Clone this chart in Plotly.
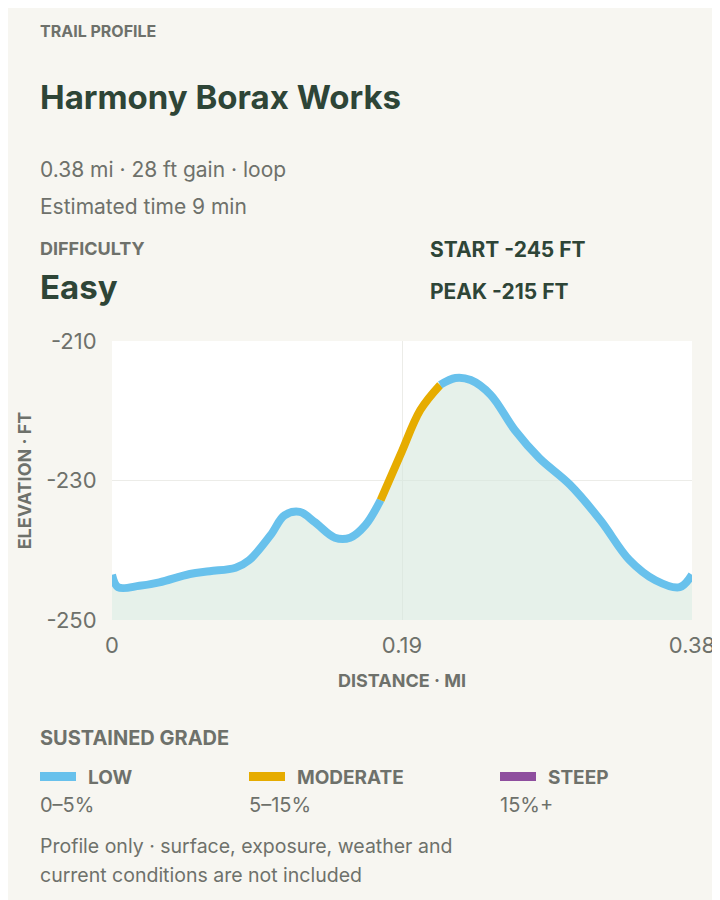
import plotly.graph_objects as go

# trail profile
dist_mi = [0, 0.004, 0.018, 0.031, 0.051, 0.064, 0.081, 0.090, 0.104, 0.113, 0.123,
           0.133, 0.146, 0.156, 0.166, 0.176, 0.189, 0.202, 0.215, 0.225, 0.235,
           0.248, 0.264, 0.280, 0.300, 0.320, 0.339, 0.356, 0.372, 0.38]
elev_ft = [-243.5, -245.3, -245.1, -244.6, -243.4, -243.0, -242.5, -241.4, -237.8, -235.0, -234.5,
           -236.0, -238.2, -238.2, -236.4, -232.8, -226.3, -219.9, -216.3, -215.3, -215.6,
           -217.7, -222.8, -226.8, -230.6, -235.7, -241.4, -244.3, -245.3, -243.5]
# grade class per point ("low" / "moderate")
grade = ["low"] * 15 + ["moderate"] * 3 + ["low"] * 12

y_ticks = [-250, -230, -210]
x_ticks = [0, 0.19, 0.38]

legend_names = ["LOW", "MODERATE", "STEEP"]
legend_ranges = ["0–5%", "5–15%", "15%+"]
legend_colors = ["#68C1EC", "#E6AC00", "#8E4E9E"]
grade_colors = {"low": legend_colors[0], "moderate": legend_colors[1]}

W, H = 720, 900
OFF = 8  # page body margin
L, R, T, B = 112 - OFF, 692 - OFF, 341 - OFF, 620 - OFF
BG = "#F7F6F1"
DARK = "#2E4537"
GREY = "#6E716B"
FONT = "Inter"


def py(y):
    return (B - (y - OFF)) / (B - T)


def px(x):
    return ((x - OFF) - L) / (R - L)


fig = go.Figure()
fig.add_trace(go.Scatter(x=[x_ticks[0], x_ticks[-1]], y=[y_ticks[0], y_ticks[0]], mode="lines",
                         line=dict(width=0), hoverinfo="skip"))
fig.add_trace(go.Scatter(x=dist_mi, y=elev_ft, mode="lines", line=dict(width=0, shape="spline"),
                         fill="tonexty", fillcolor="rgba(214,232,220,0.6)", hoverinfo="skip"))

# split into runs of the same grade, overlapping by one point
runs = []
start = 0
for i in range(1, len(grade) + 1):
    if i == len(grade) or grade[i] != grade[start]:
        runs.append((start, min(i, len(grade) - 1), grade[start]))
        start = i
for a, b, g in runs:
    fig.add_trace(go.Scatter(x=dist_mi[a:b + 1], y=elev_ft[a:b + 1], mode="lines",
                             line=dict(color=grade_colors[g], width=8, shape="spline"),
                             hoverinfo="skip"))

ann = []


def text(x, y, s, size, color, bold=False, anchor="left"):
    ann.append(dict(xref="paper", yref="paper", x=px(x), y=py(y), text=f"<b>{s}</b>" if bold else s,
                    showarrow=False, xanchor=anchor, yanchor="middle", xshift=-2,
                    font=dict(family=FONT, size=size, color=color)))


text(40, 31, "TRAIL PROFILE", 16, GREY, True)
text(40, 97, "Harmony Borax Works", 33, DARK, True)
text(40, 169, "0.38 mi · 28 ft gain · loop", 21, GREY)
text(40, 207, "Estimated time 9 min", 21, GREY)
text(40, 248, "DIFFICULTY", 18, GREY, True)
text(40, 287, "Easy", 33, DARK, True)
text(430, 250, "START -245 FT", 21, DARK, True)
text(430, 291, "PEAK -215 FT", 21, DARK, True)
text(40, 738, "SUSTAINED GRADE", 20, GREY, True)
text(40, 846, "Profile only · surface, exposure, weather and", 19.5, GREY)
text(40, 875, "current conditions are not included", 19.5, GREY)

shapes = []
for i, (name, rng, col) in enumerate(zip(legend_names, legend_ranges, legend_colors)):
    x0 = [40, 249, 500][i]
    shapes.append(dict(type="rect", xref="paper", yref="paper", x0=px(x0), x1=px(x0 + 36),
                       y0=py(781), y1=py(772), fillcolor=col, line=dict(width=0)))
    text(x0 + 48, 777, name, 19, GREY, True)
    text(x0, 805, rng, 20, GREY)

fig.update_layout(
    width=W, height=H, paper_bgcolor=BG, plot_bgcolor="white",
    margin=dict(l=L, r=W - R, t=T, b=H - B), showlegend=False,
    annotations=ann, shapes=shapes,
    xaxis=dict(range=[x_ticks[0], x_ticks[-1]], tickvals=x_ticks, ticktext=[f"{v:g}" for v in x_ticks],
               showgrid=True, gridcolor="#ECECE8", zeroline=False, showline=False,
               tickfont=dict(family=FONT, size=22, color=GREY), ticks="outside", ticklen=6,
               tickcolor="rgba(0,0,0,0)",
               title=dict(text="<b>DISTANCE · MI</b>", standoff=16,
                          font=dict(family=FONT, size=18, color=GREY))),
    yaxis=dict(range=[y_ticks[0], y_ticks[-1]], tickvals=y_ticks, ticktext=[str(v) for v in y_ticks],
               showgrid=True, gridcolor="#ECECE8", zeroline=False, showline=False,
               ticks="outside", ticklen=10, tickcolor="rgba(0,0,0,0)",
               tickfont=dict(family=FONT, size=22, color=GREY),
               title=dict(text="<b>ELEVATION · FT</b>", standoff=10,
                          font=dict(family=FONT, size=18, color=GREY))),
)

fig.write_html("out.html")
